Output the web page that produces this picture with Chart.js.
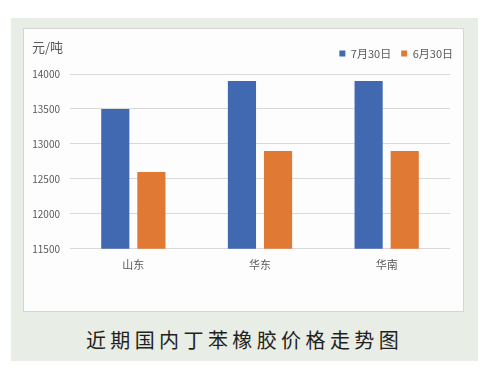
<!DOCTYPE html>
<html>
<head>
<meta charset="utf-8">
<script src="https://cdn.jsdelivr.net/npm/chart.js@4"></script>
<style>
  body { margin: 0; background: #fff; width: 489px; height: 373px; position: relative; overflow: hidden; }
  .outer { position: absolute; left: 11px; top: 18px; width: 467px; height: 343px; background: #e8ede6; }
  .inner { position: absolute; left: 23px; top: 28px; width: 439px; height: 282px; background: #fdfdfd; border: 1px solid #d6d6d6; }
  canvas { position: absolute; left: 0; top: 0; }
  .unit { position: absolute; left: 8px; top: 8px; font: 13px "Noto Sans CJK SC", sans-serif; color: #595959; }
  .caption { position: absolute; left: 0; width: 489px; top: 325px; text-align: center;
    font: 20px "Noto Sans CJK SC", sans-serif; letter-spacing: 4.4px; color: #231f20; }
</style>
</head>
<body>
<div class="outer"></div>
<div class="inner">
  <canvas id="chart" width="439" height="282"></canvas>
  <div class="unit">元/吨</div>
</div>
<div class="caption">近期国内丁苯橡胶价格走势图</div>
<script>
// 数据
const regioes = ['山东', '华东', '华南'];
const julho = [13500, 13900, 13900];
const junho = [12600, 12900, 12900];
const rotulos = ['7月30日', '6月30日'];

const fonte = '"Noto Sans CJK SC", sans-serif';

const ctx = document.getElementById('chart').getContext('2d');
const chart = new Chart(ctx, {
  type: 'bar',
  data: {
    labels: regioes,
    datasets: [{
      label: rotulos[0],
      data: julho,
      backgroundColor: '#4169b1',
      barPercentage: 0.78,
      categoryPercentage: 0.57
    }, {
      label: rotulos[1],
      data: junho,
      backgroundColor: '#df7934',
      barPercentage: 0.78,
      categoryPercentage: 0.57
    }]
  },
  options: {
    responsive: false,
    animation: false,
    layout: { padding: { top: 9, right: 0, bottom: 39, left: 0 } },
    plugins: {
      tooltip: { enabled: false },
      legend: {
        position: 'top',
        align: 'end',
        labels: {
          boxWidth: 6,
          boxHeight: 6,
          padding: 10,
          color: '#595959',
          font: { size: 11, family: fonte }
        }
      }
    },
    scales: {
      x: {
        grid: { display: false },
        border: { display: false },
        ticks: {
          color: '#595959',
          padding: 1,
          font: { size: 11, family: fonte }
        }
      },
      y: {
        min: 11500,
        max: 14000,
        afterFit: (axis) => { axis.width = 46; },
        grid: { color: '#d9d9d9', drawTicks: false },
        border: { display: false },
        ticks: {
          stepSize: 500,
          padding: 10,
          color: '#595959',
          font: { size: 10, family: fonte },
          callback: (v) => String(v)
        }
      },
      // eixos vazios só para dar espaço
      espacoTopo: {
        type: 'linear',
        position: 'top',
        grid: { display: false },
        border: { display: false },
        ticks: { display: false },
        afterFit: (axis) => { axis.height = 5; }
      },
      espacoDireita: {
        type: 'linear',
        position: 'right',
        grid: { display: false },
        border: { display: false },
        ticks: { display: false },
        afterFit: (axis) => { axis.width = 13; }
      }
    }
  }
});
</script>
</body>
</html>
